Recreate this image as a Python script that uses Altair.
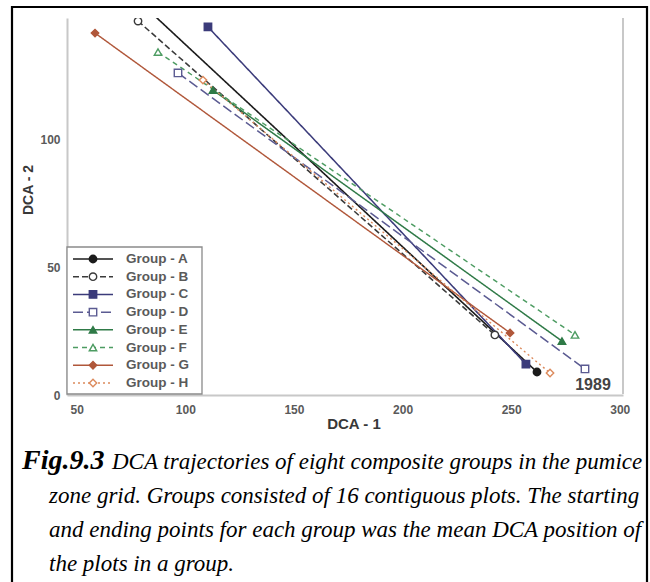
import altair as alt
import pandas as pd

# ---------------- data ----------------
groups = ["Group - A", "Group - B", "Group - C", "Group - D",
          "Group - E", "Group - F", "Group - G", "Group - H"]
x_start = [83.0, 78.2, 110.4, 96.6, 112.7, 87.4, 58.4, 108.1]
y_start = [150.6, 146.3, 144.0, 126.0, 119.3, 134.2, 141.6, 123.2]
x_end = [261.9, 242.5, 256.8, 284.0, 273.4, 279.4, 249.5, 267.9]
y_end = [9.0, 23.5, 12.1, 10.2, 21.1, 23.5, 24.3, 8.6]

x_ticks = [50, 100, 150, 200, 250, 300]
y_ticks = [0, 50, 100]

year_label = ["1989"]
year_group = ["Group - D"]

caption_bold = "Fig.9.3"
caption_lines = [
    "DCA trajectories of eight composite groups in the pumice",
    "zone grid. Groups consisted of 16 contiguous plots. The starting",
    "and ending points for each group was the mean DCA position of",
    "the plots in a group.",
]

# ---------------- styles ----------------
colors = ["#1c1c1c", "#3a3a3a", "#3b3b7a", "#5b5b92",
          "#2f7a47", "#4d9c62", "#b0573a", "#dc8a5c"]
fills = ["#1c1c1c", "#ffffff", "#3b3b7a", "#ffffff",
         "#2f7a47", "#ffffff", "#b0573a", "#ffffff"]
shapes = ["circle", "circle", "square", "square",
          "triangle-up", "triangle-up", "diamond", "diamond"]
dashes = [[1, 0], [6, 3], [1, 0], [10, 4], [1, 0], [5, 4], [1, 0], [2, 3]]
widths = [1.6, 1.4, 1.6, 1.6, 1.6, 1.4, 2.0, 1.2]

rows = []
for i, g in enumerate(groups):
    rows.append({"group": g, "stage": 0, "x": x_start[i], "y": y_start[i]})
    rows.append({"group": g, "stage": 1, "x": x_end[i], "y": y_end[i]})
df = pd.DataFrame(rows)
legend_df = pd.DataFrame({"group": groups})
year_df = pd.DataFrame({
    "label": year_label,
    "x": [x_end[groups.index(g)] for g in year_group],
    "y": [y_end[groups.index(g)] for g in year_group],
})
one = pd.DataFrame({"k": [0]})

W, H = 556, 377
xs = alt.Scale(domain=[45.5, 301.5], nice=False, zero=False)
ys = alt.Scale(domain=[0, 147.5], nice=False, zero=False)
cs = alt.Scale(domain=groups, range=colors)
fs = alt.Scale(domain=groups, range=fills)
ss = alt.Scale(domain=groups, range=shapes)
ds = alt.Scale(domain=groups, range=dashes)
ws = alt.Scale(domain=groups, range=widths)
ls = alt.Scale(type="point", domain=groups, range=[241, 365], padding=0)

AX = dict(domainColor="#c8c8c8", domainWidth=2, ticks=False, grid=False,
          labelFont="Liberation Sans", labelFontSize=12, labelColor="#5a5a5a",
          labelFontWeight="bold", title=None)

base = alt.Chart(df)

lines = base.mark_line(clip=True).encode(
    x=alt.X("x:Q", scale=xs, axis=alt.Axis(values=x_ticks, labelPadding=9, **AX)),
    y=alt.Y("y:Q", scale=ys, axis=alt.Axis(values=y_ticks, labelPadding=7, **AX)),
    color=alt.Color("group:N", scale=cs, legend=None),
    strokeDash=alt.StrokeDash("group:N", scale=ds, legend=None),
    strokeWidth=alt.StrokeWidth("group:N", scale=ws, legend=None),
    order="stage:O",
)

points = base.mark_point(clip=True, opacity=1, strokeWidth=1.4, size=55).encode(
    x=alt.X("x:Q", scale=xs, axis=None),
    y=alt.Y("y:Q", scale=ys, axis=None),
    stroke=alt.Stroke("group:N", scale=cs, legend=None),
    fill=alt.Fill("group:N", scale=fs, legend=None),
    shape=alt.Shape("group:N", scale=ss, legend=None),
)

year = alt.Chart(year_df).mark_text(
    font="Liberation Sans", fontSize=16, fontWeight="bold", color="#444444",
    dx=8, dy=16, baseline="middle", align="center",
).encode(
    x=alt.X("x:Q", scale=xs, axis=None),
    y=alt.Y("y:Q", scale=ys, axis=None),
    text="label:N",
)

right_line = alt.Chart(one).mark_rule(color="#c8c8c8", strokeWidth=2).encode(
    x=alt.value(W), y=alt.value(0), y2=alt.value(376))

# legend
leg_box = alt.Chart(one).mark_rect(fill="white", stroke="#8a8a8a", strokeWidth=1.3).encode(
    x=alt.value(0), x2=alt.value(135), y=alt.value(229), y2=alt.value(376))
leg_lines = alt.Chart(legend_df).mark_rule().encode(
    x=alt.value(6), x2=alt.value(46),
    y=alt.Y("group:N", scale=ls, axis=None),
    color=alt.Color("group:N", scale=cs, legend=None),
    strokeDash=alt.StrokeDash("group:N", scale=ds, legend=None),
    strokeWidth=alt.StrokeWidth("group:N", scale=ws, legend=None),
)
leg_pts = alt.Chart(legend_df).mark_point(opacity=1, strokeWidth=1.4, size=55).encode(
    x=alt.value(26),
    y=alt.Y("group:N", scale=ls, axis=None),
    stroke=alt.Stroke("group:N", scale=cs, legend=None),
    fill=alt.Fill("group:N", scale=fs, legend=None),
    shape=alt.Shape("group:N", scale=ss, legend=None),
)
leg_text = alt.Chart(legend_df).mark_text(
    align="left", baseline="middle", font="Liberation Sans", fontSize=13.5,
    color="#5a5a5a", fontWeight="bold").encode(
    x=alt.value(59),
    y=alt.Y("group:N", scale=ls, axis=None),
    text="group:N",
)

# axis titles
xtitle = alt.Chart(one).mark_text(
    text="DCA - 1", font="Liberation Sans", fontSize=15, color="#383838",
    fontWeight="bold", align="center", baseline="middle").encode(
    x=alt.value(287), y=alt.value(406))
ytitle = alt.Chart(one).mark_text(
    text="DCA - 2", font="Liberation Sans", fontSize=14, color="#383838",
    fontWeight="bold", align="center", baseline="middle", angle=270).encode(
    x=alt.value(-38), y=alt.value(172))

# frame and caption
frame = alt.Chart(one).mark_rect(fill=None, stroke="black", strokeWidth=2.2).encode(
    x=alt.value(-55), x2=alt.value(580), y=alt.value(-11), y2=alt.value(620))
cap_bold = alt.Chart(one).mark_text(
    text=caption_bold, font="Liberation Serif", fontSize=28, fontStyle="italic",
    fontWeight="bold", color="black", align="left", baseline="alphabetic").encode(
    x=alt.value(-45), y=alt.value(451))
cap_df = pd.DataFrame({
    "t": caption_lines,
    "px": [45, -18, -18, -18],
    "py": [451, 485, 519, 553],
})
cap_text = alt.Chart(cap_df).mark_text(
    font="Liberation Serif", fontSize=23, fontStyle="italic", color="black",
    align="left", baseline="alphabetic").encode(
    x=alt.X("px:Q", scale=None, axis=None),
    y=alt.Y("py:Q", scale=None, axis=None),
    text="t:N",
)

chart = alt.layer(
    frame, lines, points, year, right_line,
    leg_box, leg_lines, leg_pts, leg_text,
    xtitle, ytitle, cap_bold, cap_text,
).resolve_scale(y="independent", x="independent").properties(
    width=W, height=H,
    padding={"left": 67, "top": 18, "right": 27, "bottom": 187},
    autosize="none",
).configure_view(stroke=None)

chart.save("out.html", embed_options={"renderer": "svg", "actions": False})
